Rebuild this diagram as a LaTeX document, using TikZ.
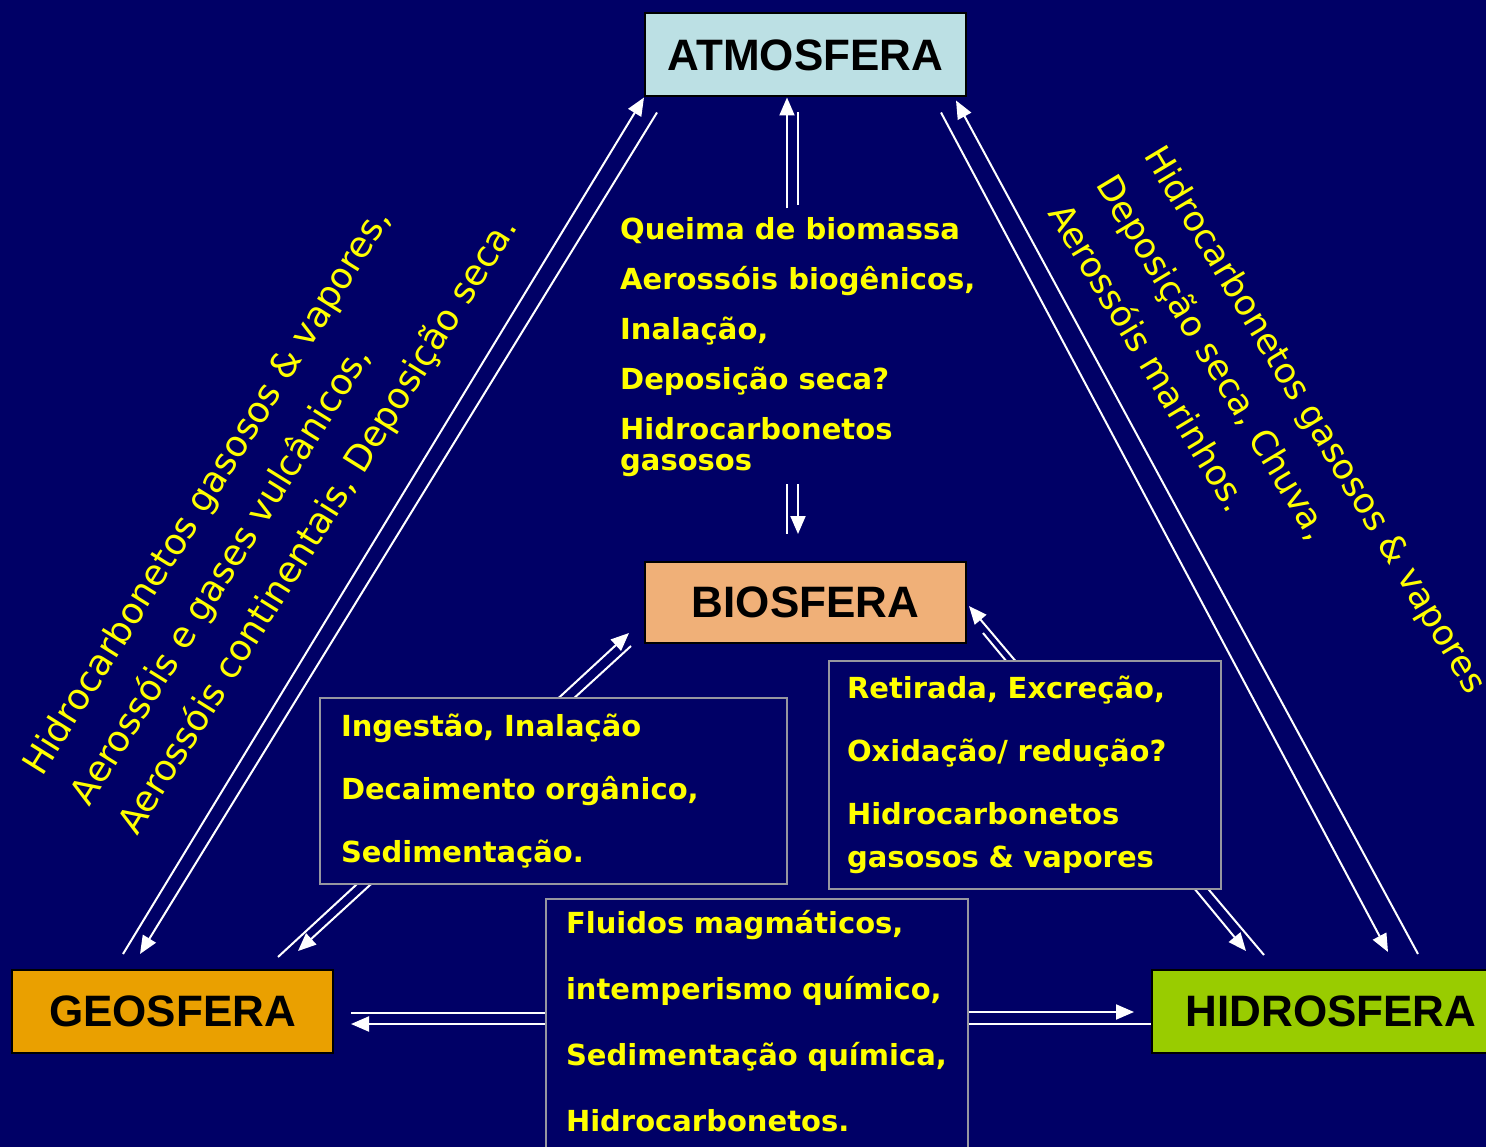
\documentclass[tikz,border=0pt]{standalone}
\usepackage{fontspec}
\newfontfamily\labelfont{Liberation Sans}
\newfontfamily\handfont{DejaVu Sans}
\usetikzlibrary{arrows.meta}
\pgfdeclarelayer{backdrop}
\pgfdeclarelayer{background}
\pgfsetlayers{backdrop,background,main}
\definecolor{bgnavy}{RGB}{0,0,102}
\definecolor{noteyellow}{RGB}{255,255,0}
\definecolor{notegray}{RGB}{150,150,160}
\definecolor{atmosfill}{RGB}{188,224,228}
\definecolor{biosfill}{RGB}{240,176,120}
\definecolor{geofill}{RGB}{234,160,0}
\definecolor{hidrofill}{RGB}{153,204,0}
\tikzstyle{sphere} = [draw=black, line width=2pt, inner sep=0pt, minimum width=321pt, minimum height=83pt, font=\labelfont\bfseries\fontsize{44}{50}\selectfont]
\tikzstyle{note} = [draw=notegray, line width=2pt, fill=bgnavy, text=noteyellow, align=left, inner ysep=0pt, font=\handfont\bfseries\fontsize{29}{63}\selectfont]
\tikzstyle{caption} = [text=noteyellow, align=left, inner sep=0pt, font=\handfont\bfseries\fontsize{29}{50}\selectfont]
\tikzstyle{slanted} = [text=noteyellow, align=left, inner sep=0pt, font=\handfont\fontsize{36}{56}\selectfont]
\tikzstyle{flow} = [draw=white, line width=2pt, -{Triangle[length=18pt,width=15pt]}]
\tikzstyle{track} = [draw=white, line width=2pt]

\begin{document}
\begin{tikzpicture}[x=1pt, y=-1pt]
	\useasboundingbox (0,0) rectangle (1486,1147);
	\begin{pgfonlayer}{backdrop}
		\fill[bgnavy] (0,0) rectangle (1486,1147);
	\end{pgfonlayer}

	\node[sphere, fill=atmosfill] (atmos) at (805.5,55) {ATMOSFERA};
	\node[sphere, fill=biosfill, minimum height=81pt] (bios) at (805.5,602.5) {BIOSFERA};
	\node[sphere, fill=geofill] (geo) at (172.5,1011.5) {GEOSFERA};
	\node[sphere, fill=hidrofill, minimum width=358pt] (hidro) at (1331,1011.5) {HIDROSFERA};

	% exchanges drawn as plain text boxes
	\node[note, anchor=north west, minimum width=467pt, minimum height=186pt, inner xsep=21pt, text width=425pt] (ingest) at (319,697)
		{Ingestão, Inalação\\ Decaimento orgânico,\\ Sedimentação.};
	\node[note, anchor=north west, minimum width=392pt, minimum height=228pt, inner xsep=18pt, text width=356pt] (retira) at (828,660)
		{Retirada, Excreção,\\ Oxidação/ redução?\\ Hidrocarbonetos\\[-20pt] gasosos \& vapores};
	\node[note, anchor=north west, minimum width=422pt, inner xsep=20pt, inner ysep=11pt, text width=382pt, font=\handfont\bfseries\fontsize{29}{66}\selectfont] (fluid) at (545,898)
		{Fluidos magmáticos,\\ intemperismo químico,\\ Sedimentação química,\\ Hidrocarbonetos.\rule[-30pt]{0pt}{30pt}};
	\node[caption, anchor=north west] (queima) at (620,217)
		{Queima de biomassa\\ Aerossóis biogênicos,\\ Inalação,\\ Deposição seca?\\ Hidrocarbonetos\\[-19pt] gasosos};

	\node[slanted, rotate=58, anchor=base west] (geoatm) at (137,837)
		{Hidrocarbonetos gasosos \& vapores,\\ Aerossóis e gases vulcânicos,\\ Aerossóis continentais, Deposição seca.};
	\node[slanted, rotate=-59, anchor=base west, font=\handfont\fontsize{35}{56}\selectfont] (atmhid) at (1047,213)
		{Hidrocarbonetos gasosos \& vapores\\ Deposição seca, Chuva,\\ Aerossóis marinhos.};

	% end points next to the boxes
	\coordinate (geoA) at ([shift={(-49.5,-15)}]geo.north);
	\coordinate (geoB) at ([shift={(-32.5,-15)}]geo.north);
	\coordinate (geoC) at ([shift={(105.5,-12)}]geo.north);
	\coordinate (geoD) at ([shift={(125.5,-18)}]geo.north);
	\coordinate (geoE) at ([shift={(17,1.5)}]geo.east);
	\coordinate (geoF) at ([shift={(17,12.5)}]geo.east);
	\coordinate (atmA) at ([shift={(13,15)}]atmos.south west);
	\coordinate (atmB) at ([shift={(-11,3)}]atmos.south east);
	\coordinate (atmC) at ([shift={(-26,15)}]atmos.south east);
	\coordinate (atmD) at ([shift={(-18.5,0)}]atmos.south);
	\coordinate (atmE) at ([shift={(-18.5,111)}]atmos.south);
	\coordinate (atmF) at ([shift={(-7.5,15)}]atmos.south);
	\coordinate (atmG) at ([shift={(-7.5,108)}]atmos.south);
	\coordinate (bioA) at ([shift={(-15,-11)}]bios.south west);
	\coordinate (bioB) at ([shift={(-13,2)}]bios.south west);
	\coordinate (bioC) at ([shift={(2,-38)}]bios.south east);
	\coordinate (bioD) at ([shift={(16,-11)}]bios.south east);
	\coordinate (bioE) at ([shift={(-18.5,-77)}]bios.north);
	\coordinate (bioF) at ([shift={(-18.5,-27)}]bios.north);
	\coordinate (bioG) at ([shift={(-7.5,-77)}]bios.north);
	\coordinate (bioH) at ([shift={(-7.5,-27)}]bios.north);
	\coordinate (hidA) at ([shift={(87,-15)}]hidro.north);
	\coordinate (hidB) at ([shift={(57,-17)}]hidro.north);
	\coordinate (hidC) at ([shift={(113,-14)}]hidro.north west);
	\coordinate (hidD) at ([shift={(95,-18)}]hidro.north west);
	\coordinate (hidE) at ([shift={(-17,0.5)}]hidro.west);
	\coordinate (hidF) at ([shift={(0,12.5)}]hidro.west);
	\coordinate (fluA) at ([shift={(0,115)}]fluid.north west);
	\coordinate (fluB) at ([shift={(0,126)}]fluid.north west);
	\coordinate (fluC) at ([shift={(0,114)}]fluid.north east);
	\coordinate (fluD) at ([shift={(0,126)}]fluid.north east);

	\begin{pgfonlayer}{background}
		\foreach \source/\dest in {geoA/atmos.south west, atmA/geoB, hidA/atmB, atmC/hidB, geoC/bioA, bioB/geoD, hidC/bioC, bioD/hidD, atmE/atmD, bioG/bioH, fluB/geoF, fluC/hidE}
			\path[flow] (\source) -- (\dest);
		\foreach \source/\dest in {atmF/atmG, bioE/bioF, fluA/geoE, fluD/hidF}
			\path[track] (\source) -- (\dest);
	\end{pgfonlayer}
\end{tikzpicture}
\end{document}
